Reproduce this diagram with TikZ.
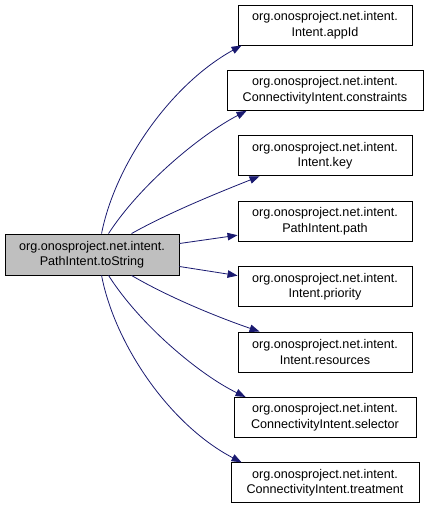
\documentclass[tikz,border=0pt]{standalone}
\usepackage{fontspec}
\setmainfont{Liberation Sans}
\usetikzlibrary{arrows.meta,calc}
\definecolor{edgeblue}{RGB}{25,25,112}
\definecolor{srcgrey}{RGB}{191,191,191}
\begin{document}
\begin{tikzpicture}[x=1pt,y=-1pt,
  box/.style={draw=black,line width=0.9pt,fill=white,align=center,inner sep=0pt,
    minimum height=40pt,font=\fontsize{12.6}{15.5}\selectfont},
  srcbox/.style={box,fill=srcgrey},
  conn/.style={draw=edgeblue,line width=0.8pt,-{Triangle[length=10pt,width=7.5pt]}}]
\useasboundingbox (0,0) rectangle (429,508);
\node[srcbox,minimum width=174pt,minimum height=41pt] (src) at (92,254.5) {org.onosproject.net.intent.\\PathIntent.toString};
\node[box,minimum width=174pt] (appid) at (325,25) {org.onosproject.net.intent.\\Intent.appId};
\node[box,minimum width=196pt] (constr) at (325,90.4) {org.onosproject.net.intent.\\ConnectivityIntent.constraints};
\node[box,minimum width=174pt] (key) at (325,155.8) {org.onosproject.net.intent.\\Intent.key};
\node[box,minimum width=174pt] (path) at (325,221.2) {org.onosproject.net.intent.\\PathIntent.path};
\node[box,minimum width=174pt] (prio) at (325,286.6) {org.onosproject.net.intent.\\Intent.priority};
\node[box,minimum width=174pt] (res) at (325,352) {org.onosproject.net.intent.\\Intent.resources};
\node[box,minimum width=182pt] (sel) at (325,417.4) {org.onosproject.net.intent.\\ConnectivityIntent.selector};
\node[box,minimum width=188pt] (treat) at (325,482.8) {org.onosproject.net.intent.\\ConnectivityIntent.treatment};
% connectors
\draw[conn] ($(src.north west)+(97,0)$) .. controls (115,165) and (170,85) .. ($(appid.south west)+(4,0)$);
\draw[conn] ($(src.north west)+(104,0)$) .. controls (140,185) and (200,135) .. ($(constr.south west)+(20,0)$);
\draw[conn] ($(src.north west)+(127,0)$) .. controls (170,212) and (220,192) .. ($(key.south west)+(22,0)$);
\draw[conn] ($(src.east)+(0,-11)$) -- ($(path.west)+(0,14)$);
\draw[conn] ($(src.east)+(0,12)$) -- ($(prio.west)+(0,-11)$);
\draw[conn] ($(src.south west)+(127,0)$) .. controls (170,298) and (220,318) .. ($(res.north west)+(22,0)$);
\draw[conn] ($(src.south west)+(104,0)$) .. controls (140,325) and (200,375) .. ($(sel.north west)+(12,0)$);
\draw[conn] ($(src.south west)+(97,0)$) .. controls (115,345) and (170,425) .. ($(treat.north west)+(11,0)$);
\end{tikzpicture}
\end{document}
